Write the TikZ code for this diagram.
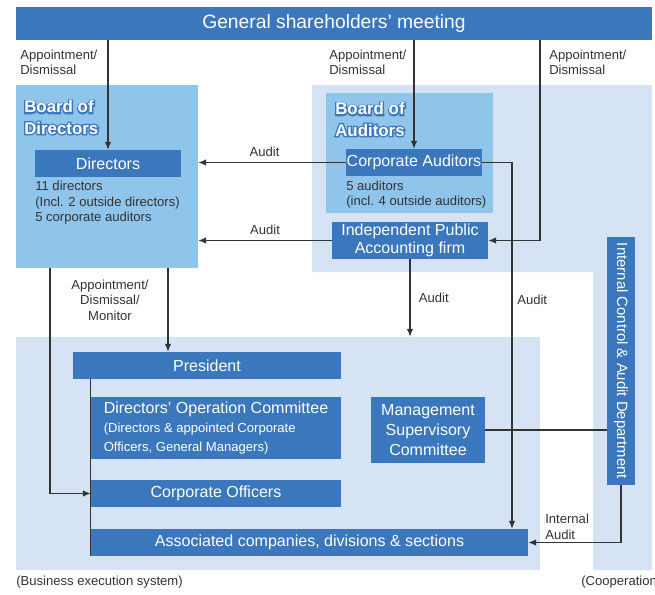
\documentclass[tikz,border=0pt]{standalone}
\usepackage{fontspec}
\setmainfont{Liberation Sans}
\newfontfamily\outlinefont{Liberation Sans Bold}[FakeBold=16]
\usetikzlibrary{arrows.meta}
\definecolor{boxblue}{HTML}{3A77BC}
\definecolor{boardblue}{HTML}{8FC4EB}
\definecolor{paleblue}{HTML}{D5E3F5}
\definecolor{linegray}{HTML}{333333}
\newcommand{\labelfont}{\fontsize{9.3}{11}\selectfont}
\newcommand{\boxfont}{\fontsize{11.4}{13.5}\selectfont}
\newcommand{\outlined}[1]{\rlap{\textcolor{boxblue}{\outlinefont #1}}#1}

\begin{document}
\begin{tikzpicture}[x=0.025cm, y=-0.025cm,
    >={Latex[length=5.5pt,width=4.5pt]},
    conn/.style={draw=linegray, line width=0.75pt},
    region/.style={fill=#1, inner sep=0pt},
    darkbox/.style={fill=boxblue, text=white, font=\boxfont, inner sep=0pt, align=center},
    lbl/.style={font=\labelfont, text=linegray, inner sep=0pt, align=left},
    boardtitle/.style={font=\fontsize{12}{15}\selectfont\bfseries, text=white, inner sep=0pt, anchor=west, align=left}]
            \useasboundingbox (0,0) rectangle (655,594);

            % background areas
            \fill[paleblue] (312,85) -- (652,85) -- (652,570) -- (593,570) -- (593,272) -- (312,272) -- cycle;
            \node[region=paleblue, minimum width=13.1cm, minimum height=5.825cm] (exec) at (278,453.5) {};
            \node[region=boardblue, minimum width=4.55cm, minimum height=4.575cm] (bod) at (107,176.5) {};
            \node[region=boardblue, minimum width=4.175cm, minimum height=3cm] (boa) at (409.5,153) {};

            % board titles
            \node[boardtitle] (bodtitle) at (24,117.5) {\outlined{Board of}\\\outlined{Directors}};
            \node[boardtitle] (boatitle) at (335,119.5) {\outlined{Board of}\\\outlined{Auditors}};

            % boxes
            \node[darkbox, minimum width=15.9cm, minimum height=0.825cm, font=\fontsize{13.7}{16}\selectfont] (gsm) at (334,23.5) {General shareholders' meeting};
            \node[darkbox, minimum width=3.65cm, minimum height=0.675cm] (directors) at (108,163.5) {Directors};
            \node[darkbox, minimum width=3.4cm, minimum height=0.675cm] (ca) at (414,162.5) {Corporate Auditors};
            \node[darkbox, minimum width=3.9cm, minimum height=0.925cm, font=\fontsize{11.4}{12.5}\selectfont] (ipa) at (410,240.5) {Independent Public\\Accounting firm};
            \node[darkbox, minimum width=0.7cm, minimum height=6.2cm, font=\fontsize{10.6}{13}\selectfont] (icad) at (621,361) {\rotatebox{-90}{Internal Control \& Audit Department}};
            \node[darkbox, minimum width=6.7cm, minimum height=0.675cm] (president) at (207,365.5) {President};
            \node[darkbox, minimum width=6.25cm, minimum height=1.55cm, align=left] (doc) at (216,428)
                {Directors' Operation Committee\\\labelfont (Directors \& appointed Corporate\\\labelfont Officers, General Managers)};
            \node[darkbox, minimum width=2.85cm, minimum height=1.65cm, font=\fontsize{11.4}{14}\selectfont] (msc) at (428,430) {Management\\Supervisory\\Committee};
            \node[darkbox, minimum width=6.25cm, minimum height=0.675cm] (co) at (216,493.5) {Corporate Officers};
            \node[darkbox, minimum width=10.925cm, minimum height=0.675cm] (assoc) at (309.5,542.5) {Associated companies, divisions \& sections};

            % texts
            \node[lbl, anchor=west] (dirtext) at (35,203) {11 directors\\(Incl. 2 outside directors)\\5 corporate auditors};
            \node[lbl, anchor=west] (audtext) at (346,194.5) {5 auditors\\(incl. 4 outside auditors)};
            \node[lbl, anchor=west] (appt1) at (20,62.5) {Appointment/\\Dismissal};
            \node[lbl, anchor=west] (appt2) at (329,62.5) {Appointment/\\Dismissal};
            \node[lbl, anchor=west] (appt3) at (549,62.5) {Appointment/\\Dismissal};
            \node[lbl, align=center] (appt4) at (110,300) {Appointment/\\Dismissal/\\Monitor};
            \node[lbl, anchor=west] (audlbl) at (517,300) {Audit};
            \node[lbl, anchor=west] (intaud) at (545,527) {Internal\\Audit};
            \node[lbl, anchor=west] (execlbl) at (16,582) {(Business execution system)};
            \node[lbl, anchor=west] (cooplbl) at (581,582) {(Cooperation};

            % connectors
            \coordinate (gsmright) at (540,0);
            \coordinate (audright) at (512,0);
            \coordinate (bodleft) at (50,0);
            \coordinate (bodright) at (168,0);

            \draw[conn, ->] (gsm.south -| directors) -- (directors.north);
            \draw[conn, ->] (gsm.south -| ca) -- (ca.north);
            \draw[conn, ->] (gsm.south -| gsmright) |- (ipa.east);

            \draw[conn, ->] (ca.west) -- node[lbl, pos=0.55, above=4pt]{Audit} (ca.west -| bod.east);
            \draw[conn, ->] (ipa.west) -- node[lbl, above=4pt]{Audit} (ipa.west -| bod.east);
            \draw[conn, ->] (ca.east) -| (assoc.north -| audright);
            \draw[conn, ->] (ipa.south) -- node[lbl, right=6pt]{Audit} (ipa.south |- exec.north);

            \draw[conn, ->] (bod.south -| bodright) -- (president.north -| bodright);
            \draw[conn, ->] (bod.south -| bodleft) |- (co.west);
            \draw[conn] (president.south -| assoc.west) -- (assoc.south west);

            \draw[conn] (msc.east) -- (msc.east -| icad.west);
            \draw[conn, ->] (icad.south) |- (assoc.east);
\end{tikzpicture}
\end{document}
